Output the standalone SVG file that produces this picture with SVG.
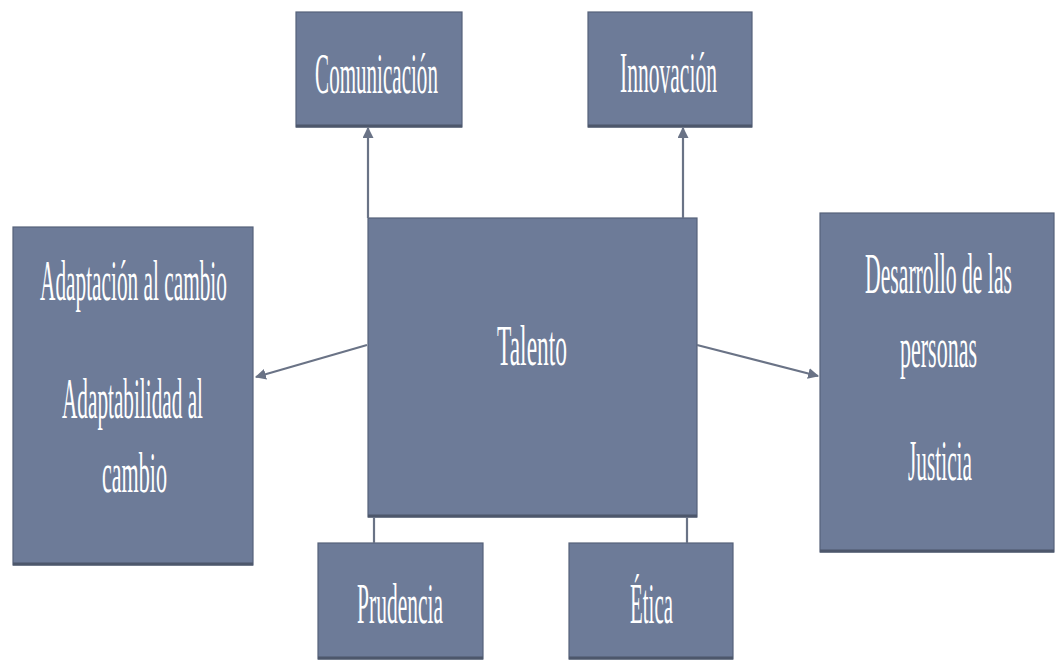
<svg xmlns="http://www.w3.org/2000/svg" width="1055" height="662" viewBox="0 0 1055 662">
  <style>
    .box { fill: #6d7b98; stroke: #56627a; stroke-width: 1.2; }
    .shadow { stroke: #4d576b; stroke-width: 3; }
    .lbl { font-family: "Liberation Serif", "Times New Roman", serif; font-size: 58px; fill: #ffffff; text-anchor: middle; }
    .conn { stroke: #6a7386; stroke-width: 2.2; fill: none; }
  </style>
  <defs>
    <marker id="arr" viewBox="0 0 10 10" refX="9" refY="5" markerWidth="5" markerHeight="5" orient="auto" markerUnits="strokeWidth">
      <path d="M0,0 L10,5 L0,10 Z" fill="#6a7386"/>
    </marker>
  </defs>
  <rect width="1055" height="662" fill="#ffffff"/>

  <g id="node-comunicacion">
    <rect class="box" x="296" y="12" width="166" height="115"/>
    <line class="shadow" x1="296" y1="126" x2="462" y2="126"/>
    <text class="lbl" transform="translate(376.5,93) scale(0.37,1)" textLength="332" lengthAdjust="spacingAndGlyphs">Comunicación</text>
  </g>
  <g id="node-innovacion">
    <rect class="box" x="588" y="12" width="164" height="115"/>
    <line class="shadow" x1="588" y1="126" x2="752" y2="126"/>
    <text class="lbl" transform="translate(668.5,92) scale(0.37,1)" textLength="262" lengthAdjust="spacingAndGlyphs">Innovación</text>
  </g>
  <g id="node-talento">
    <rect class="box" x="368" y="218" width="329" height="299"/>
    <line class="shadow" x1="368" y1="516" x2="697" y2="516"/>
    <text class="lbl" transform="translate(532,365) scale(0.37,1)" textLength="189" lengthAdjust="spacingAndGlyphs">Talento</text>
  </g>
  <g id="node-adaptacion">
    <rect class="box" x="13" y="227" width="240" height="338"/>
    <line class="shadow" x1="13" y1="564" x2="253" y2="564"/>
    <text class="lbl" transform="translate(133.5,300) scale(0.37,1)" textLength="505" lengthAdjust="spacingAndGlyphs">Adaptación al cambio</text>
    <text class="lbl" transform="translate(132.5,418) scale(0.37,1)" textLength="381" lengthAdjust="spacingAndGlyphs">Adaptabilidad al</text>
    <text class="lbl" transform="translate(134.5,492) scale(0.37,1)" textLength="176" lengthAdjust="spacingAndGlyphs">cambio</text>
  </g>
  <g id="node-desarrollo">
    <rect class="box" x="820" y="213" width="234" height="339"/>
    <line class="shadow" x1="820" y1="551" x2="1054" y2="551"/>
    <text class="lbl" transform="translate(938.5,293) scale(0.37,1)" textLength="397" lengthAdjust="spacingAndGlyphs">Desarrollo de las</text>
    <text class="lbl" transform="translate(938.5,367) scale(0.37,1)" textLength="208" lengthAdjust="spacingAndGlyphs">personas</text>
    <text class="lbl" transform="translate(940,480) scale(0.37,1)" textLength="173" lengthAdjust="spacingAndGlyphs">Justicia</text>
  </g>
  <g id="node-prudencia">
    <rect class="box" x="318" y="543" width="165" height="116"/>
    <line class="shadow" x1="318" y1="658" x2="483" y2="658"/>
    <text class="lbl" transform="translate(400,623) scale(0.37,1)" textLength="232" lengthAdjust="spacingAndGlyphs">Prudencia</text>
  </g>
  <g id="node-etica">
    <rect class="box" x="569" y="543" width="164" height="116"/>
    <line class="shadow" x1="569" y1="658" x2="733" y2="658"/>
    <text class="lbl" transform="translate(651.5,623) scale(0.37,1)" textLength="116" lengthAdjust="spacingAndGlyphs">Ética</text>
  </g>

  <g id="connectors">
    <line class="conn" x1="368" y1="218" x2="368" y2="128" marker-end="url(#arr)"/>
    <line class="conn" x1="683" y1="218" x2="683" y2="128" marker-end="url(#arr)"/>
    <line class="conn" x1="367" y1="345" x2="256" y2="377" marker-end="url(#arr)"/>
    <line class="conn" x1="697" y1="345" x2="818" y2="376" marker-end="url(#arr)"/>
    <line class="conn" x1="374" y1="517" x2="374" y2="543"/>
    <line class="conn" x1="687" y1="517" x2="687" y2="543"/>
  </g>
</svg>
